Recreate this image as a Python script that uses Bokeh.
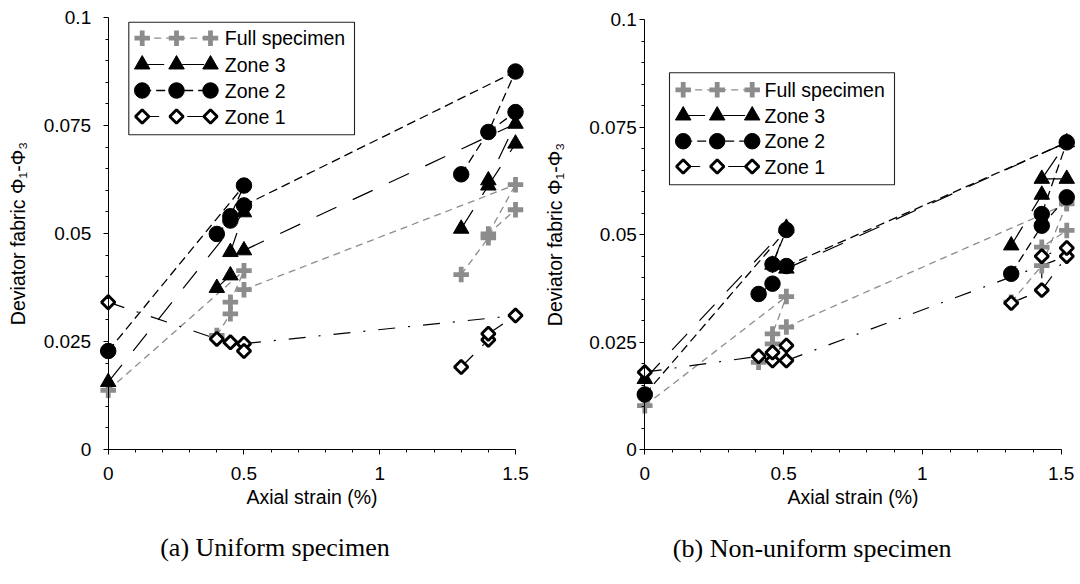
import numpy as np
from bokeh.plotting import figure
from bokeh.layouts import row
from bokeh.models import FixedTicker, Label
from bokeh.core.properties import value
from bokeh.embed import file_html
from bokeh.resources import INLINE

# ---------------- axis ticks ----------------
x_ticks = [0, 0.5, 1, 1.5]
x_tick_labels = ["0", "0.5", "1", "1.5"]
x_minor_ticks = [0.1, 0.2, 0.3, 0.4, 0.6, 0.7, 0.8, 0.9, 1.1, 1.2, 1.3, 1.4]
y_ticks = [0, 0.025, 0.05, 0.075, 0.1]
y_tick_labels = ["0", "0.025", "0.05", "0.075", "0.1"]
y_minor_ticks = [0.005, 0.01, 0.015, 0.02, 0.03, 0.035, 0.04, 0.045,
                 0.055, 0.06, 0.065, 0.07, 0.08, 0.085, 0.09, 0.095]

series_names = ["Full specimen", "Zone 3", "Zone 2", "Zone 1"]

# ---------------- (a) uniform specimen ----------------
uni_full_x = [0, 0.4, 0.45, 0.45, 0.5, 0.5, 1.3, 1.4, 1.4, 1.5, 1.5]
uni_full_y = [0.0137, 0.0264, 0.0314, 0.0341, 0.0414, 0.0370, 0.0405, 0.0490, 0.0499, 0.0555, 0.0613]
uni_full_paths = [[0, 4], [1, 2, 3, 4], [5, 10], [6, 7, 8, 9], [8, 10]]

uni_z3_x = [0, 0.4, 0.45, 0.45, 0.5, 0.5, 1.3, 1.4, 1.4, 1.5, 1.5]
uni_z3_y = [0.0156, 0.0374, 0.0403, 0.0457, 0.0461, 0.0549, 0.0511, 0.0611, 0.0623, 0.0708, 0.0754]
uni_z3_paths = [[0, 5], [1, 2, 3, 5], [4, 10], [6, 7, 8, 10], [7, 9]]

uni_z2_x = [0, 0.4, 0.45, 0.45, 0.5, 0.5, 1.3, 1.4, 1.5, 1.5]
uni_z2_y = [0.0228, 0.0499, 0.0530, 0.0540, 0.0565, 0.0611, 0.0637, 0.0735, 0.0781, 0.0875]
uni_z2_paths = [[0, 5], [1, 2, 3, 5], [4, 9], [6, 7, 9], [7, 8]]

uni_z1_x = [0, 0.4, 0.45, 0.5, 0.5, 1.3, 1.4, 1.4, 1.5]
uni_z1_y = [0.0341, 0.0256, 0.0248, 0.0245, 0.0228, 0.0191, 0.0254, 0.0268, 0.0310]
uni_z1_paths = [[0, 1], [1, 2, 4], [3, 8], [5, 6, 7, 8]]

# ---------------- (b) non-uniform specimen ----------------
non_full_x = [0, 0.41, 0.46, 0.46, 0.51, 0.51, 1.32, 1.43, 1.43, 1.52, 1.52]
non_full_y = [0.0102, 0.0203, 0.0246, 0.0269, 0.0285, 0.0356, 0.0343, 0.0428, 0.0471, 0.0510, 0.0572]
non_full_paths = [[0, 5], [1, 2, 3, 5], [4, 10], [6, 7, 8, 9], [7, 10]]

non_z3_x = [0, 0.46, 0.51, 0.51, 1.32, 1.43, 1.43, 1.52, 1.52]
non_z3_y = [0.0164, 0.0430, 0.0421, 0.0516, 0.0475, 0.0593, 0.0630, 0.0630, 0.0715]
non_z3_paths = [[0, 3], [1, 3], [2, 8], [4, 5, 6, 8], [6, 7]]

non_z2_x = [0, 0.41, 0.46, 0.46, 0.51, 0.51, 1.32, 1.43, 1.43, 1.52, 1.52]
non_z2_y = [0.0128, 0.0362, 0.0386, 0.0431, 0.0427, 0.0511, 0.0409, 0.0521, 0.0548, 0.0587, 0.0715]
non_z2_paths = [[0, 5], [1, 2, 3, 5], [4, 10], [6, 7, 8, 10], [7, 9]]

non_z1_x = [0, 0.41, 0.46, 0.46, 0.51, 0.51, 1.32, 1.43, 1.43, 1.52, 1.52]
non_z1_y = [0.0180, 0.0217, 0.0207, 0.0226, 0.0207, 0.0242, 0.0341, 0.0371, 0.0450, 0.0450, 0.0469]
non_z1_paths = [[0, 1], [1, 2, 3, 5], [4, 9], [6, 7, 8, 10], [7, 9]]

# ---------------- styles ----------------
GRAY = "#8c8c8c"
LINE_STYLE = {
    "Full specimen": dict(line_color=GRAY, line_dash="7 5", line_width=1.3),
    "Zone 3": dict(line_color="black", line_dash="22 18", line_width=1.2),
    "Zone 2": dict(line_color="black", line_dash="9 5", line_width=1.3),
    "Zone 1": dict(line_color="black", line_dash="17 13 2 13", line_width=1.2),
}
MARKER_STYLE = {
    "Full specimen": dict(marker="cross", size=15.5, line_width=4.8, line_color=GRAY),
    "Zone 3": dict(marker="triangle", size=15.5, fill_color="black", line_color="black"),
    "Zone 2": dict(marker="circle", size=15.5, fill_color="black", line_color="black"),
    "Zone 1": dict(marker="square", angle=np.pi / 4, size=9.5, fill_color="white",
                   line_color="black", line_width=2.9),
}
FONT = "Liberation Sans"
W, H = 540, 584


def make_panel(series, caption, geom):
    # the frame fills the whole figure; both axes are pinned at zero
    x0_px, x15_px = geom["x_px"]       # pixel columns of x = 0 and x = 1.5
    y0_px, y01_px = geom["y_px"]       # pixel rows of y = 0 and y = 0.1
    sx = (x15_px - x0_px) / 1.5
    sy = (y0_px - y01_px) / 0.1

    def dx(px):
        return (px - x0_px) / sx

    def dy(py):
        return (y0_px - py) / sy

    p = figure(width=W, height=H, x_range=(dx(0), dx(W)), y_range=(dy(H), dy(0)),
               output_backend="svg", toolbar_location=None,
               min_border=0, min_border_left=0, min_border_right=0,
               min_border_top=0, min_border_bottom=0)
    p.grid.visible = False
    p.outline_line_color = None
    p.background_fill_color = "white"
    p.border_fill_color = "white"

    xa = p.xaxis[0]
    xa.ticker = FixedTicker(ticks=x_ticks, minor_ticks=x_minor_ticks)
    xa.major_label_overrides = dict(zip(x_ticks, x_tick_labels))
    xa.bounds = (0, 1.5)
    xa.fixed_location = 0
    xa.axis_label = "Axial strain (%)"
    xa.axis_label_standoff = geom["xlabel_standoff"]
    xa.major_label_standoff = geom["xtick_standoff"]

    ya = p.yaxis[0]
    ya.ticker = FixedTicker(ticks=y_ticks, minor_ticks=y_minor_ticks)
    ya.major_label_overrides = dict(zip(y_ticks, y_tick_labels))
    ya.bounds = (0, 0.1)
    ya.fixed_location = 0
    ya.axis_label = "Deviator fabric Φ₁-Φ₃"
    ya.axis_label_standoff = geom["ylabel_standoff"]
    ya.major_label_standoff = geom["ytick_standoff"]

    for ax in (xa, ya):
        ax.axis_line_color = "black"
        ax.axis_line_width = 1
        ax.major_tick_line_color = "black"
        ax.minor_tick_line_color = "black"
        ax.major_tick_in = 0
        ax.major_tick_out = 5
        ax.minor_tick_in = 0
        ax.minor_tick_out = 3
        ax.major_label_text_font = FONT
        ax.major_label_text_font_size = "19px"
        ax.major_label_text_color = "black"
        ax.axis_label_text_font = FONT
        ax.axis_label_text_font_size = "19.5px"
        ax.axis_label_text_font_style = "normal"
        ax.axis_label_text_color = "black"

    # connecting lines
    for name in series_names:
        xs, ys, paths = series[name]
        p.multi_line([[xs[i] for i in path] for path in paths],
                     [[ys[i] for i in path] for path in paths],
                     **LINE_STYLE[name])
    # markers
    for name in series_names:
        xs, ys, _ = series[name]
        p.scatter(xs, ys, **MARKER_STYLE[name])

    # legend block
    bl, bt, br, bb = geom["legend_box"]
    p.quad(left=[dx(bl)], right=[dx(br)], top=[dy(bt)], bottom=[dy(bb)],
           fill_color="white", line_color="#222222", line_width=1.1)
    mx = geom["legend_marker_px"]
    for name, ry in zip(series_names, geom["legend_rows_px"]):
        p.line([dx(mx[0]), dx(mx[-1])], [dy(ry), dy(ry)], **LINE_STYLE[name])
        p.scatter([dx(m) for m in mx], [dy(ry)] * len(mx), **MARKER_STYLE[name])
    p.text(x=[dx(geom["legend_text_px"])] * 4,
           y=[dy(ry) for ry in geom["legend_rows_px"]],
           text=series_names, text_font=value(FONT), text_font_size=value("19.5px"),
           text_baseline="middle", text_align="left", text_color="black")

    # caption under the panel
    cx, cy = geom["caption_px"]
    p.add_layout(Label(x=cx, y=H - cy, x_units="screen", y_units="screen",
                       text=caption, text_align="center", text_baseline="middle",
                       text_font="Liberation Serif", text_font_size="26px",
                       text_color="black"))
    return p


uni_series = {
    "Full specimen": (uni_full_x, uni_full_y, uni_full_paths),
    "Zone 3": (uni_z3_x, uni_z3_y, uni_z3_paths),
    "Zone 2": (uni_z2_x, uni_z2_y, uni_z2_paths),
    "Zone 1": (uni_z1_x, uni_z1_y, uni_z1_paths),
}
non_series = {
    "Full specimen": (non_full_x, non_full_y, non_full_paths),
    "Zone 3": (non_z3_x, non_z3_y, non_z3_paths),
    "Zone 2": (non_z2_x, non_z2_y, non_z2_paths),
    "Zone 1": (non_z1_x, non_z1_y, non_z1_paths),
}

geom_a = dict(x_px=(107.7, 515.0), y_px=(449.0, 17.0),
              xtick_standoff=12, xlabel_standoff=3,
              ytick_standoff=12, ylabel_standoff=12,
              legend_box=(128.3, 21.7, 354.0, 134.3),
              legend_rows_px=[37.7, 64.0, 90.0, 116.0],
              legend_marker_px=[141.7, 176.0, 210.0], legend_text_px=224.3,
              caption_px=(274.5, 547))
geom_b = dict(x_px=(104.3, 520.7), y_px=(449.0, 19.4),
              xtick_standoff=12, xlabel_standoff=3,
              ytick_standoff=3, ylabel_standoff=20,
              legend_box=(129.0, 72.3, 354.0, 184.3),
              legend_rows_px=[89.3, 115.0, 140.7, 166.0],
              legend_marker_px=[142.7, 176.7, 211.7], legend_text_px=224.0,
              caption_px=(271.7, 548))

pa = make_panel(uni_series, "(a) Uniform specimen", geom_a)
pb = make_panel(non_series, "(b) Non-uniform specimen", geom_b)

layout = row(pa, pb)
open("out.html", "w").write(file_html(layout, INLINE))
